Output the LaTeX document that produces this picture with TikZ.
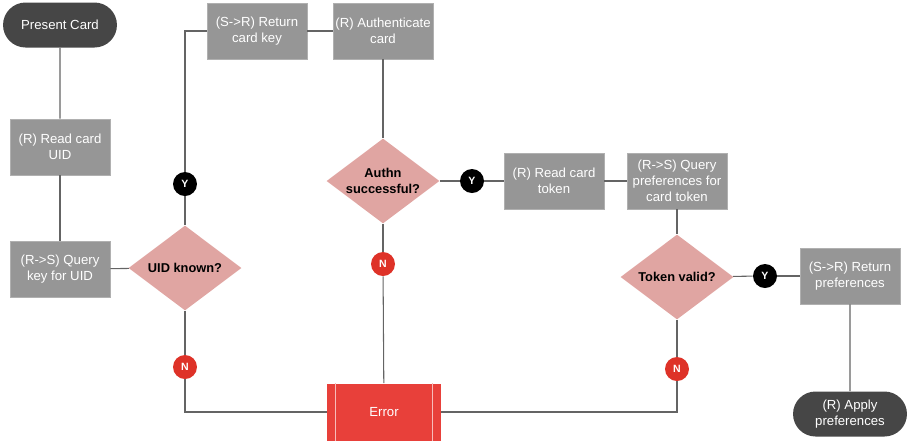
\documentclass[tikz,border=0pt]{standalone}
\usepackage{fontspec}
\setmainfont{Liberation Sans}
\usetikzlibrary{shapes.geometric,shapes.misc}
\definecolor{myterm}{RGB}{70,70,70}
\definecolor{mybox}{RGB}{150,150,150}
\definecolor{mypink}{RGB}{224,165,162}
\definecolor{myred}{RGB}{222,50,40}
\definecolor{myerr}{RGB}{232,64,58}
\definecolor{myline}{RGB}{100,100,100}

\begin{document}
\begin{tikzpicture}[x=0.02cm, y=-0.02cm,
  every node/.style={font=\fontsize{7.5}{9}\selectfont, align=center},
  termbox/.style={rounded rectangle, fill=myterm, text=white, minimum width=2.42cm, minimum height=0.9cm, inner xsep=2pt},
  stepbox/.style={rectangle, fill=mybox, draw=mybox!75!white, text=white, minimum width=2cm, minimum height=1.12cm, inner sep=1pt},
  askbox/.style={diamond, fill=mypink, aspect=1.33, minimum width=2.26cm, minimum height=1.7cm, inner sep=0pt, font=\fontsize{7.3}{8.8}\selectfont\bfseries},
  ybadge/.style={circle, fill=black, text=white, minimum size=0.48cm, inner sep=0pt, font=\fontsize{6}{6}\selectfont\bfseries},
  nbadge/.style={ybadge, fill=myred},
  errbox/.style={rectangle, fill=myerr, text=white, minimum width=2.28cm, minimum height=1.14cm},
  link/.style={draw=myline, line width=0.6pt}]

\useasboundingbox (0,0) rectangle (907,441);

% linke Spalte
\node[termbox] (start) at (60,25) {Present Card};
\node[stepbox] (readuid) at (60,147) {(R) Read card\\UID};
\node[stepbox] (querykey) at (60,269) {(R->S) Query\\key for UID};
\node[askbox] (uidknown) at (185,268) {UID known?};
\node[ybadge] (y1) at (185,184) {Y};
\node[nbadge] (n1) at (185,367) {N};

% oben
\node[stepbox] (retkey) at (257,31) {(S->R) Return\\card key};
\node[stepbox] (auth) at (383,31) {(R) Authenticate\\card};
\node[askbox] (authn) at (383,181) {Authn\\successful?};
\node[ybadge] (y2) at (472,181) {Y};
\node[nbadge] (n2) at (383,264) {N};

% rechts
\node[stepbox] (readtok) at (554,181) {(R) Read card\\token};
\node[stepbox] (querypref) at (677,181) {(R->S) Query\\preferences for\\card token};
\node[askbox] (tokvalid) at (677,277) {Token valid?};
\node[ybadge] (y3) at (765,276) {Y};
\node[nbadge] (n3) at (677,369) {N};
\node[stepbox] (retpref) at (850,276) {(S->R) Return\\preferences};
\node[termbox] (apply) at (850,414) {(R) Apply\\preferences};

% Fehler
\node[errbox] (err) at (384,412) {Error};
\draw[white!65!myerr, line width=0.6pt] ([xshift=0.18cm]err.north west) -- ([xshift=0.18cm]err.south west);
\draw[white!65!myerr, line width=0.6pt] ([xshift=-0.18cm]err.north east) -- ([xshift=-0.18cm]err.south east);

% Verbindungen
\draw[link] (start) -- (readuid);
\draw[link] (readuid) -- (querykey);
\draw[link] (querykey) -- (uidknown);
\draw[link] (uidknown) -- (y1);
\draw[link] (y1) |- (retkey);
\draw[link] (retkey) -- (auth);
\draw[link] (auth) -- (authn);
\draw[link] (authn) -- (y2);
\draw[link] (y2) -- (readtok);
\draw[link] (readtok) -- (querypref);
\draw[link] (querypref) -- (tokvalid);
\draw[link] (tokvalid) -- (y3);
\draw[link] (y3) -- (retpref);
\draw[link] (retpref) -- (apply);
\draw[link] (uidknown) -- (n1);
\draw[link] (n1) |- (err);
\draw[link] (authn) -- (n2);
\draw[link] (n2) -- (err);
\draw[link] (tokvalid) -- (n3);
\draw[link] (n3) |- (err);

\end{tikzpicture}
\end{document}
